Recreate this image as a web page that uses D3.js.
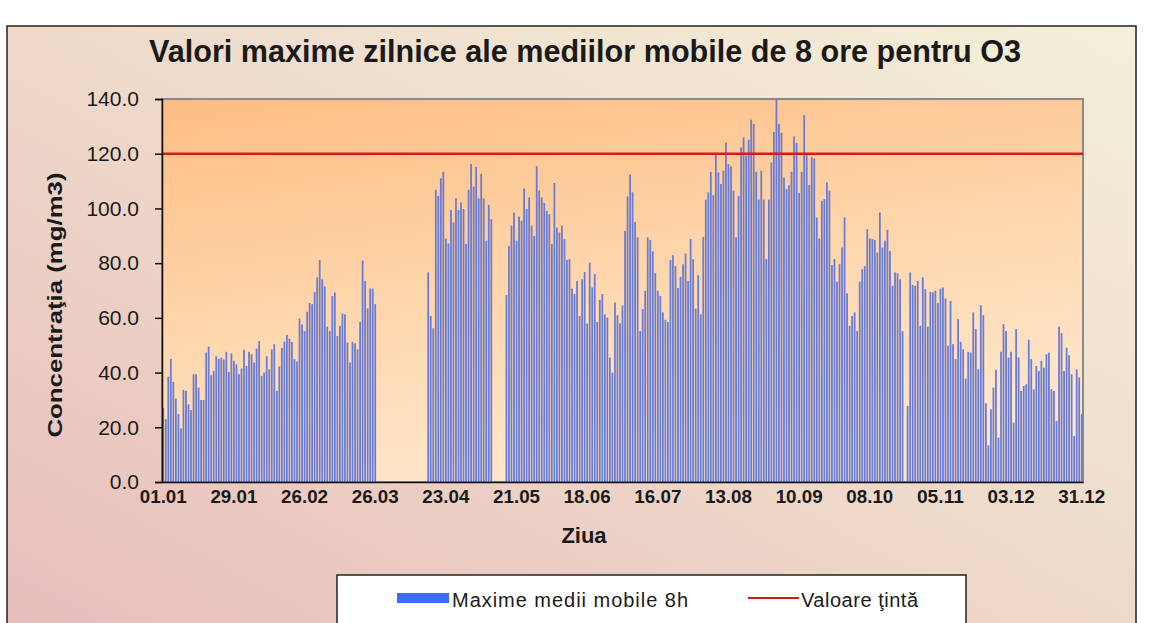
<!DOCTYPE html>
<html>
<head>
<meta charset="utf-8">
<script src="https://cdn.jsdelivr.net/npm/d3@7"></script>
<style>
  body { margin: 0; background: #fff; }
  text { font-family: "Liberation Sans", Arial, sans-serif; fill: #1a1a1a; }
</style>
</head>
<body>
<svg></svg>
<script>
let width = 1153;
let height = 623;

// tick labels, one every 28 days
const labelDays = ['01.01', '29.01', '26.02', '26.03', '23.04', '21.05', '18.06',
                   '16.07', '13.08', '10.09', '08.10', '05.11', '03.12', '31.12'];

// daily max of 8h moving averages (null = no data)
const janMar = [27, 23, 38.5, 45, 36.6, 30.5, 24.8, 19.6, 33.7, 33.3, 28.4, 26.3, 39.4, 39.4,
  34.5, 30, 30, 47.3, 49.5, 39, 40.6, 46, 45, 45.5, 44.8, 47.6, 40.2, 47, 44.3, 43, 39.4, 41.5,
  48.3, 42.4, 47.6, 46.7, 43.7, 48.8, 51.5, 38.8, 40, 46,
  41.2, 48.5, 50.4, 33.3, 42.2, 49, 51.3, 53.8, 52.4, 51.2, 44.9, 44, 59.8, 57.6, 55.2, 62.2,
  65.4, 65, 69.5, 74.8, 81.1, 74.1, 71.5, 56.8, 55.2, 68, 69.3, 53.4, 57, 61.6, 61.3, 51, 43.7,
  51.2, 50.7, 48.5, 58.5, 81, 73.5, 63.5, 70.7, 70.7, 65];
const aprGap = [null, null, null, null, null, null, null, null, null, null,
  null, null, null, null, null, null, null, null, null, null];
const aprMay = [76.6, 60.7, 56.2, 106.8, 104.6, 111, 113.4, 89, 87.2, 99.4, 94.9, 103.7, 99.4,
  102.2, 99.8, 87, 106.8, 116.2, 108, 115.2, 103.7, 112.6, 103.7, 88.2, 101.3, 96.1];
const mayGap = [null, null, null, null, null];
const mayJul = [68.3, 86.3, 93.7, 98.5, 88.2, 97, 95.5, 107.3, 99.8, 104, 93.7, 90, 115.4, 106.5,
  104, 102, 99.1, 97.9, 87, 109.3, 93, 91.2, 93.7, 88.8, 81.2, 81.5, 70.7, 68.7, 73.5, 60.7, 74.1,
  76.8, 57.9, 80.2, 71.1, 76, 58.5, 66.6, 68.7, 61.3, 60.1, 45.5, 40, 65.6, 61];
const julAug = [58, 64.6, 91.8, 104.4, 112.4, 105.9, 95.1, 89.4, 55.2, 63.2, 69.9, 89.4, 88.5,
  84.3, 76.3, 69.9, 68, 62, 59.3, 58.5, 81.1, 82.9, 79, 70.9, 75, 79.6, 83.5, 73.5, 88.8, 81.5,
  63.4, 75.6, 61.3, 89.6, 103.2, 105.9, 113.4, 104.9, 120.1, 113.2, 108.9, 113.8, 124.1, 116.2,
  115.4, 106.5];
const augOct = [89.4, 104.6, 122.3, 126, 119.3, 125.1, 132.4, 130.9, 113.4, 103.2, 113.8, 103.2,
  81.5, 103.2, 116.8, 128, 140, 130.9, 127.6, 111.3, 107.1, 108.5, 113.4, 126.3, 123.9, 105.6,
  113.4, 134.1, 119.9, 108.5, 118.7, 118.3, 96.7, 89, 102.8, 103.4, 109.5, 106.5, 79.3, 81.5,
  73.2, 79.6, 85.7, 96.7, 69, 57.1];
const octNov = [60.7, 62, 55.2, 73.2, 77.8, 79, 92.4, 89, 88.8, 88.5, 83.9, 98.5, 85.7, 88.2,
  92.2, 84.5, 71.7, 76.6, 76.3, 74.1, 55.2, null, 27.8, 76.6, 72, 71.7, 73.5, 57.1, 74.8, 70.5,
  56.8, 69.5, 69.3, 69.9, 65.4, 70.7, 71.1, 67.1, 49.8, 66.2, 50.4, 44.9, 59.5, 51.2];
const novDec = [48.5, 37.8, 47.6, 47.3, 62, 55.9, 41.2, 64.6, 61, 28.8, 13.4, 26.6, 34.5, 41,
  16.2, 47.6, 57.7, 55.2, 45.5, 47.6, 21.7, 55.9, 45.5, 33.3, 35.1, 35.7, 52, 44.9, 33.9, 42.4,
  40.6, 44.3, 41.8, 46.7, 47.3, 33.9, 33.3, 22.3, 56.8, 54.4, 40.6, 49.1, 46.3, 39.4, 16.8,
  41.2, 38.2, 24.8];

const targetValue = 120;
const yTicks = [0, 20, 40, 60, 80, 100, 120, 140];

let values = [].concat(janMar, aprGap, aprMay, mayGap, mayJul, julAug, augOct, octNov, novDec);
let days = d3.range(values.length);

let plot = { left: 162, right: 1083, top: 99, bottom: 482 };

let x = d3.scaleBand()
          .domain(days)
          .range([plot.left, plot.right])
          .paddingInner(0.3)
          .paddingOuter(0.15);

let y = d3.scaleLinear()
          .domain([0, 140])
          .range([plot.bottom, plot.top]);

let svg = d3.select('svg')
            .attr('width', width)
            .attr('height', height);

let defs = svg.append('defs');

function addGradient(id, x1, y1, x2, y2, stops) {
  let g = defs.append('linearGradient')
    .attr('id', id)
    .attr('x1', x1).attr('y1', y1)
    .attr('x2', x2).attr('y2', y2);
  stops.forEach(s => {
    g.append('stop').attr('offset', s[0]).attr('stop-color', s[1]);
  });
}

addGradient('frameBg', 0, 1, 1, 0, [[0, '#e8bcbb'], [0.5, '#eed9ca'], [1, '#f4f0d9']]);
addGradient('plotBg', 0, 0, 0.35, 1, [[0, '#fdbd82'], [0.55, '#fed6ac'], [1, '#ffe6cb']]);

// chart frame
svg.append('rect')
    .attr('x', 7)
    .attr('y', 26)
    .attr('width', 1129)
    .attr('height', 620)
    .attr('fill', 'url(#frameBg)')
    .attr('stroke', '#222')
    .attr('stroke-width', 1.5);

// plot area
svg.append('rect')
    .attr('x', plot.left)
    .attr('y', plot.top)
    .attr('width', plot.right - plot.left)
    .attr('height', plot.bottom - plot.top)
    .attr('fill', 'url(#plotBg)')
    .attr('stroke', '#8a8a8a')
    .attr('stroke-width', 2);

svg.append('g')
    .classed('bars', true)
  .selectAll('rect')
  .data(days.filter(d => values[d] != null))
  .enter()
  .append('rect')
    .attr('x', d => x(d))
    .attr('y', d => y(values[d]))
    .attr('width', x.bandwidth())
    .attr('height', d => y(0) - y(values[d]))
    .attr('fill', '#6a7bd4');

svg.append('line')
    .attr('x1', plot.left)
    .attr('x2', plot.right)
    .attr('y1', y(targetValue))
    .attr('y2', y(targetValue))
    .attr('stroke', '#d41c1c')
    .attr('stroke-width', 2.5);

let yAxis = svg.append('g')
    .attr('transform', `translate(${plot.left}, 0)`)
    .call(d3.axisLeft(y)
            .tickValues(yTicks)
            .tickFormat(d3.format('.1f'))
            .tickSize(7)
            .tickPadding(16));
yAxis.select('.domain').attr('stroke', '#111').attr('stroke-width', 1.5);
yAxis.selectAll('line').attr('stroke', '#111').attr('stroke-width', 1.5);
yAxis.selectAll('text')
    .attr('font-size', 21)
    .attr('font-family', '"Liberation Sans", Arial, sans-serif')
    .attr('fill', '#222');

let xAxis = svg.append('g')
    .attr('transform', `translate(0, ${plot.bottom})`)
    .call(d3.axisBottom(x)
            .tickValues(labelDays.map((d, i) => i * 28))
            .tickFormat((d, i) => labelDays[i])
            .tickSize(0)
            .tickPadding(8));
xAxis.select('.domain').attr('stroke', '#111').attr('stroke-width', 1.5);
xAxis.selectAll('text')
    .attr('font-size', 19)
    .attr('font-weight', 'bold')
    .attr('font-family', '"Liberation Sans", Arial, sans-serif')
    .attr('fill', '#1a1a1a')
    .attr('textLength', 47)
    .attr('lengthAdjust', 'spacingAndGlyphs');

svg.append('text')
    .attr('x', 585)
    .attr('y', 62)
    .attr('text-anchor', 'middle')
    .attr('font-size', 31)
    .attr('font-weight', 'bold')
    .attr('textLength', 872)
    .attr('lengthAdjust', 'spacingAndGlyphs')
    .text('Valori maxime zilnice ale mediilor mobile de 8 ore pentru O3');

svg.append('text')
    .attr('transform', 'translate(62, 305) rotate(-90)')
    .attr('text-anchor', 'middle')
    .attr('font-size', 21)
    .attr('font-weight', 'bold')
    .attr('textLength', 265)
    .attr('lengthAdjust', 'spacingAndGlyphs')
    .text('Concentraţia  (mg/m3)');

svg.append('text')
    .attr('x', 584)
    .attr('y', 543)
    .attr('text-anchor', 'middle')
    .attr('font-size', 22)
    .attr('font-weight', 'bold')
    .text('Ziua');

// legend
let legend = svg.append('g');
legend.append('rect')
    .attr('x', 337)
    .attr('y', 575)
    .attr('width', 629)
    .attr('height', 60)
    .attr('fill', '#fff')
    .attr('stroke', '#222')
    .attr('stroke-width', 1.5);
legend.append('rect')
    .attr('x', 397)
    .attr('y', 593)
    .attr('width', 52)
    .attr('height', 10)
    .attr('fill', '#3d6df2');
legend.append('text')
    .attr('x', 452)
    .attr('y', 607)
    .attr('font-size', 20)
    .attr('fill', '#222')
    .attr('textLength', 236)
    .attr('lengthAdjust', 'spacing')
    .text('Maxime medii mobile 8h');
legend.append('line')
    .attr('x1', 748)
    .attr('x2', 799)
    .attr('y1', 598)
    .attr('y2', 598)
    .attr('stroke', '#e01414')
    .attr('stroke-width', 2);
legend.append('text')
    .attr('x', 801)
    .attr('y', 607)
    .attr('font-size', 20)
    .attr('fill', '#222')
    .attr('textLength', 117)
    .attr('lengthAdjust', 'spacing')
    .text('Valoare ţintă');
</script>
</body>
</html>
